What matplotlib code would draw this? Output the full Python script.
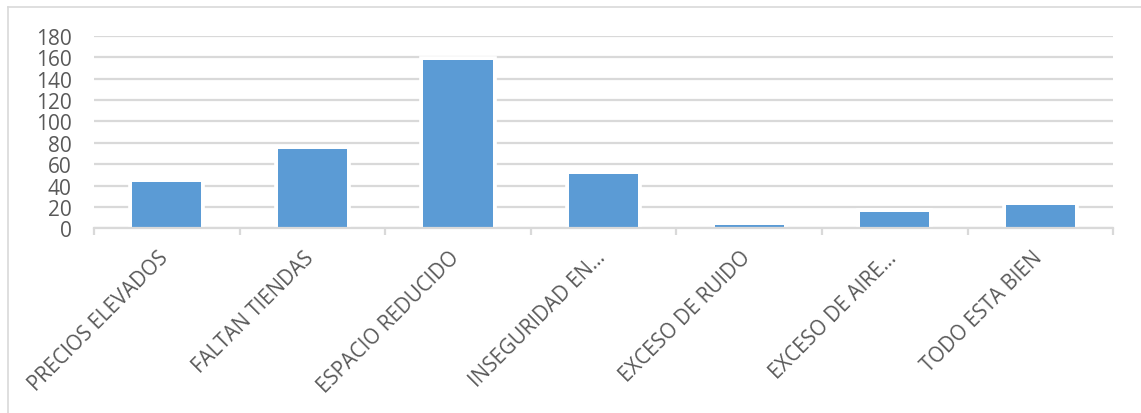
import matplotlib.pyplot as plt
import matplotlib.patheffects as pe
import matplotlib.transforms as mtransforms
from matplotlib.lines import Line2D
import numpy as np

plt.rcParams['font.family'] = ['Open Sans', 'DejaVu Sans']

categories = ["PRECIOS ELEVADOS", "FALTAN TIENDAS", "ESPACIO REDUCIDO",
              "INSEGURIDAD EN…", "EXCESO DE RUIDO", "EXCESO DE AIRE…",
              "TODO ESTA BIEN"]
counts = [43, 74, 157, 51, 3, 15, 22]
y_ticks = list(range(0, 181, 20))

bar_color = "#5b9bd5"
grid_color = "#d9d9d9"
text_color = "#595959"

fig = plt.figure(figsize=(11.41, 4.14), dpi=100)
ax = fig.add_axes([0.0824, 0.4457, 0.8933, 0.4657])

x = np.arange(len(categories))
bars = ax.bar(x, counts, width=0.475, color=bar_color, zorder=3)
for b in bars:
    b.set_path_effects([pe.Stroke(linewidth=5.5, foreground="white"), pe.Normal()])

ax.set_xlim(-0.5, len(categories) - 0.5)
ax.set_ylim(0, 180)
ax.set_yticks(y_ticks)
ax.yaxis.grid(True, color=grid_color, linewidth=1.6, zorder=0)
ax.set_axisbelow(True)

for side in ["top", "right", "left"]:
    ax.spines[side].set_visible(False)
ax.spines["bottom"].set_color(grid_color)
ax.spines["bottom"].set_linewidth(1.6)
ax.spines["bottom"].set_zorder(5)

ax.tick_params(axis="y", length=0, pad=16, labelsize=15, labelcolor=text_color)
ax.set_xticks(x)
ax.set_xticklabels(categories, rotation=45, ha="right", va="top",
                   fontsize=14.8, color=text_color)
ax.tick_params(axis="x", which="major", length=0, pad=11)
ax.set_xticks(np.arange(-0.5, len(categories)), minor=True)
ax.tick_params(axis="x", which="minor", length=5, width=1.6, color=grid_color, direction="out")

# nudge the slanted labels a little right and down
shift = mtransforms.ScaledTranslation(6 / 100, -3 / 100, fig.dpi_scale_trans)
for lbl in ax.get_xticklabels():
    lbl.set_transform(lbl.get_transform() + shift)

# light frame around the chart area
fig.add_artist(Line2D([8 / 1141, 1], [1 - 8 / 414, 1 - 8 / 414], color=grid_color,
                      linewidth=1.2, transform=fig.transFigure))
fig.add_artist(Line2D([8 / 1141, 8 / 1141], [0, 1 - 8 / 414], color=grid_color,
                      linewidth=1.2, transform=fig.transFigure))

fig.savefig("out.png", dpi=100)
